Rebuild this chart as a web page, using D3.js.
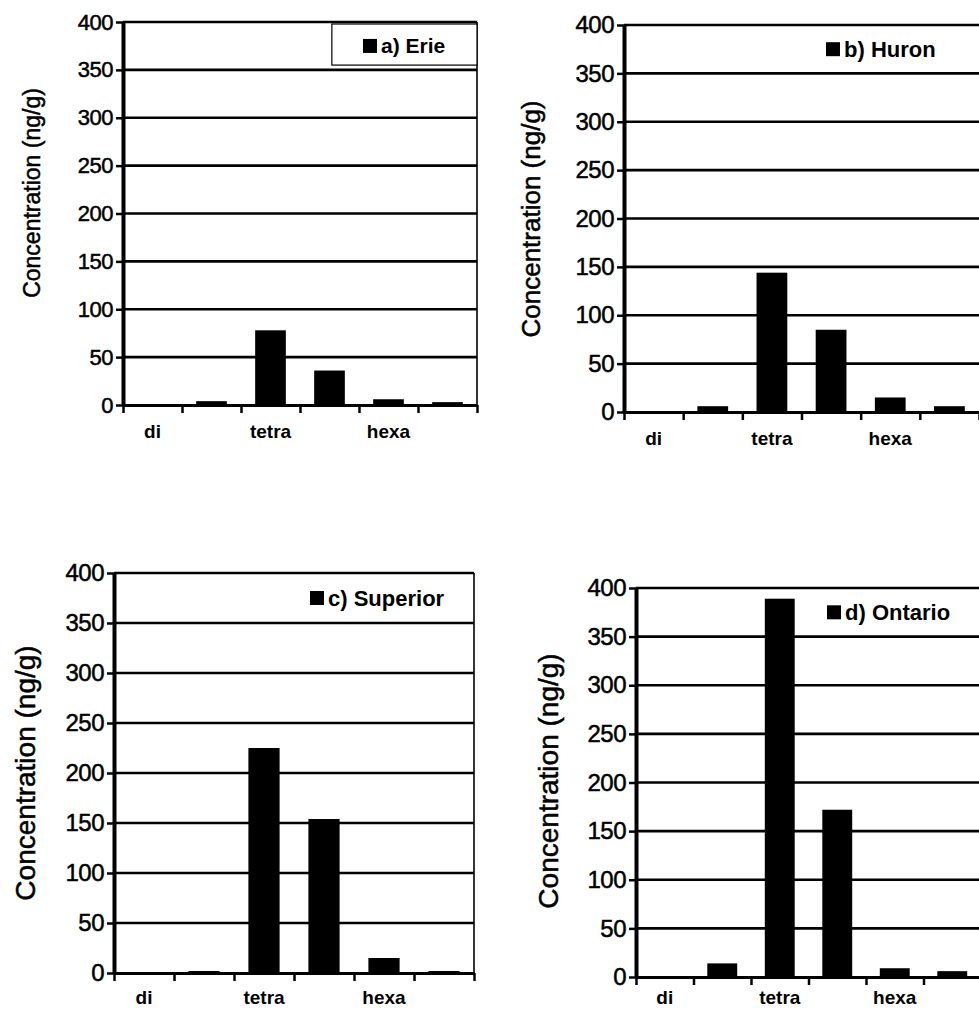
<!DOCTYPE html>
<html>
<head>
<meta charset="utf-8">
<script src="https://cdn.jsdelivr.net/npm/d3@7"></script>
<style>
  body { margin: 0; background: #fff; }
  svg { display: block; font-family: "Liberation Sans", Arial, sans-serif; }
</style>
</head>
<body>
<svg id="chart" width="979" height="1011"></svg>
<script>
// ---- data
var categories = ["di", "tri", "tetra", "penta", "hexa", "hepta"];
var shownLabels = ["di", "tetra", "hexa"];
var yTicks = [0, 50, 100, 150, 200, 250, 300, 350, 400];
var lakeNames = ["a) Erie", "b) Huron", "c) Superior", "d) Ontario"];
var erie = [0, 4, 78, 36, 6, 3];
var huron = [0, 6, 144, 85, 15, 6];
var superior = [0, 2, 225, 154, 15, 2];
var ontario = [0, 14, 389, 172, 9, 6];
var yLabel = "Concentration (ng/g)";

var seriesList = [erie, huron, superior, ontario];

// ---- layout of each panel (pixels)
var panels = [
  { left: 123, right: 477, top: 22, bottom: 405, tickFs: 22, titleFs: 23, titleX: 32, titleY: 193, catFs: 19, catDy: 33, legFs: 21, legX: 363, box: true, rightBorder: true },
  { left: 624, right: 979, top: 25, bottom: 412, tickFs: 24, titleFs: 26, titleX: 531, titleY: 219, catFs: 19, catDy: 33, legFs: 22, legX: 826, box: false, rightBorder: false },
  { left: 114, right: 474, top: 573, bottom: 973, tickFs: 24, titleFs: 28, titleX: 25, titleY: 773, catFs: 19, catDy: 31, legFs: 22, legX: 310, box: false, rightBorder: true },
  { left: 636, right: 981, top: 588, bottom: 977, tickFs: 24, titleFs: 28, titleX: 548, titleY: 781, catFs: 19, catDy: 27, legFs: 22, legX: 827, box: false, rightBorder: false }
];

var svg = d3.select("#chart");

panels.forEach(function (p, k) {
  var values = seriesList[k];
  var g = svg.append("g").attr("class", "panel");

  var y = d3.scaleLinear().domain([0, 400]).range([p.bottom, p.top]);
  var xb = d3.scaleLinear().domain([0, categories.length]).range([p.left, p.right]); // category boundaries
  var x = d3.scaleBand().domain(categories).range([p.left, p.right]).paddingInner(0.48).paddingOuter(0.24);

  // horizontal gridlines
  g.selectAll(".grid").data(yTicks.filter(function (d) { return d > 0; })).join("line").attr("class", "grid")
    .attr("x1", p.left).attr("x2", p.right).attr("y1", function (d) { return y(d); }).attr("y2", function (d) { return y(d); })
    .attr("stroke", "#000").attr("stroke-width", 2.6);

  // right border of the plot area
  if (p.rightBorder) {
    g.append("line").attr("x1", p.right).attr("x2", p.right).attr("y1", p.top).attr("y2", p.bottom)
      .attr("stroke", "#000").attr("stroke-width", 1.6);
  }

  // bars
  g.selectAll(".bar").data(values).join("rect").attr("class", "bar")
    .attr("x", function (d, i) { return x(categories[i]); })
    .attr("width", x.bandwidth())
    .attr("y", function (d) { return y(d); })
    .attr("height", function (d) { return p.bottom - y(d); })
    .attr("fill", "#000");

  // y axis
  var yAxis = d3.axisLeft(y).tickValues(yTicks).tickSize(7).tickSizeOuter(0).tickPadding(3);
  var ya = g.append("g").attr("transform", "translate(" + p.left + ",0)").call(yAxis);
  ya.select(".domain").attr("stroke-width", 4);
  ya.selectAll(".tick line").attr("stroke-width", 2.5);
  ya.selectAll(".tick text").attr("font-size", p.tickFs).attr("fill", "#000").attr("letter-spacing", -0.5)
    .attr("stroke", "#000").attr("stroke-width", 0.5)
    .attr("font-family", "'Liberation Sans', Arial, sans-serif");

  // x axis: ticks on category boundaries
  var xAxis = d3.axisBottom(xb).tickValues(d3.range(categories.length + 1)).tickSize(8).tickSizeOuter(0).tickFormat("");
  var xa = g.append("g").attr("transform", "translate(0," + p.bottom + ")").call(xAxis);
  xa.select(".domain").attr("stroke-width", 3);
  xa.selectAll(".tick line").attr("stroke-width", 2.5);

  // category labels (every other one)
  g.selectAll(".cat").data(categories.filter(function (c) { return shownLabels.indexOf(c) >= 0; })).join("text").attr("class", "cat")
    .attr("x", function (c) { return x(c) + x.bandwidth() / 2; })
    .attr("y", p.bottom + p.catDy)
    .attr("text-anchor", "middle").attr("font-size", p.catFs).attr("font-weight", "bold").text(function (c) { return c; });

  // y title
  g.append("text").attr("transform", "translate(" + p.titleX + "," + p.titleY + ") rotate(-90)")
    .attr("text-anchor", "middle").attr("dominant-baseline", "central")
    .attr("stroke", "#000").attr("stroke-width", 0.5)
    .attr("font-size", p.titleFs).text(yLabel);

  // legend
  var ly = y(375);
  if (p.box) {
    g.append("rect").attr("x", p.left + (p.right - p.left) * 0.59).attr("y", p.top + 2).attr("width", p.right - p.left - (p.right - p.left) * 0.59)
      .attr("height", y(355) - p.top - 2).attr("fill", "#fff").attr("stroke", "#000").attr("stroke-width", 1.2);
  }
  g.append("rect").attr("x", p.legX).attr("y", ly - 7).attr("width", 14).attr("height", 14).attr("fill", "#000");
  g.append("text").attr("x", p.legX + 18).attr("y", ly).attr("dominant-baseline", "central")
    .attr("font-size", p.legFs).attr("font-weight", "bold").text(lakeNames[k]);
});
</script>
</body>
</html>
